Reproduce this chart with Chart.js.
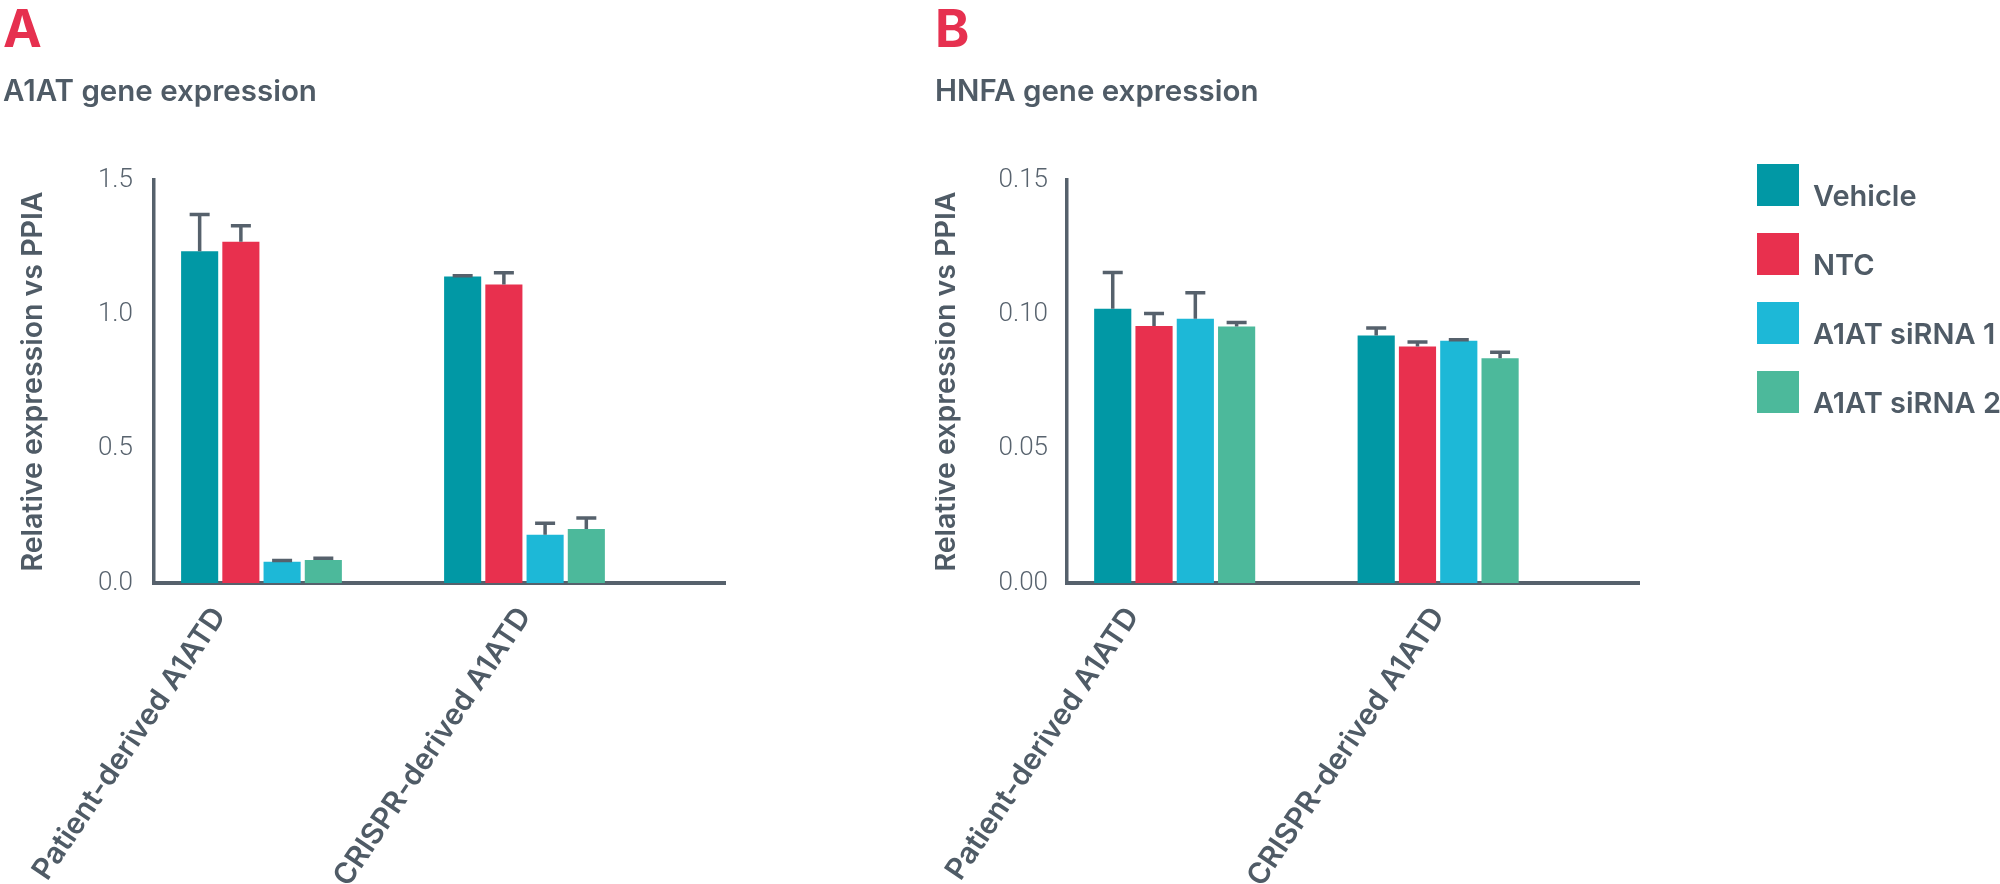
<!DOCTYPE html>
<html>
<head>
<meta charset="utf-8">
<script src="https://cdn.jsdelivr.net/npm/chart.js@4.4.1/dist/chart.umd.min.js"></script>
<style>
  html, body { margin: 0; padding: 0; background: #fff; overflow: hidden; width: 2000px; height: 884px; }
  canvas { position: absolute; top: 0; }
  #chart-a { left: 0; }
  #chart-b { left: 935px; }
  #legend-b { position: absolute; left: 1757px; top: 164px; font: 600 29px Inter, "Noto Sans", sans-serif; color: #4f5b66; line-height: 1; }
  #legend-b .item { height: 69px; white-space: nowrap; }
  #legend-b .swatch { display: inline-block; width: 42px; height: 42px; margin-right: 14px; vertical-align: baseline; }
</style>
</head>
<body>
<canvas id="chart-a" width="930" height="884"></canvas>
<canvas id="chart-b" width="1065" height="884"></canvas>
<div id="legend-b"></div>
<script>
// categories and series
const groups = ['Patient-derived A1ATD', 'CRISPR-derived A1ATD'];
const series = ['Vehicle', 'NTC', 'A1AT siRNA 1', 'A1AT siRNA 2'];

// A: A1AT gene expression (mean, error)
const vehicleA = [1.235, 1.141];
const vehicleAErr = [0.137, 0.003];
const ntcA = [1.270, 1.111];
const ntcAErr = [0.060, 0.044];
const sirna1A = [0.079, 0.180];
const sirna1AErr = [0.005, 0.042];
const sirna2A = [0.086, 0.201];
const sirna2AErr = [0.006, 0.041];
const ticksA = [0, 0.5, 1.0, 1.5];

// B: HNFA gene expression (mean, error)
const vehicleB = [0.1021, 0.0921];
const vehicleBErr = [0.0135, 0.0028];
const ntcB = [0.0957, 0.0880];
const ntcBErr = [0.0046, 0.0017];
const sirna1B = [0.0984, 0.0902];
const sirna1BErr = [0.0096, 0.0003];
const sirna2B = [0.0955, 0.0837];
const sirna2BErr = [0.0015, 0.0022];
const ticksB = [0, 0.05, 0.10, 0.15];

const colors = ['#0198a5', '#e8304e', '#1db8d7', '#4cb99b'];
const ink = '#4f5b66';
const axisInk = '#56616c';
const red = '#e6304f';

Chart.defaults.font.family = 'Inter, "Noto Sans", sans-serif';
Chart.defaults.color = ink;

// error bars (upper whisker only)
const errorBars = {
  id: 'errorBars',
  afterDatasetsDraw(chart) {
    const { ctx } = chart;
    const y = chart.scales.y;
    ctx.save();
    ctx.strokeStyle = axisInk;
    ctx.lineWidth = 3.5;
    chart.data.datasets.forEach((ds, i) => {
      chart.getDatasetMeta(i).data.forEach((bar, j) => {
        const top = y.getPixelForValue(ds.data[j].y + ds.errors[j]);
        ctx.beginPath();
        ctx.moveTo(bar.x, bar.y);
        ctx.lineTo(bar.x, top);
        ctx.moveTo(bar.x - 10, top);
        ctx.lineTo(bar.x + 10, top);
        ctx.stroke();
      });
    });
    ctx.restore();
  }
};

// legend as html, built from the chart's own legend items
const htmlLegend = {
  id: 'htmlLegend',
  afterUpdate(chart, args, opts) {
    const box = document.getElementById(opts.containerID);
    if (!box) return;
    box.innerHTML = '';
    chart.options.plugins.legend.labels.generateLabels(chart).forEach(item => {
      const row = document.createElement('div');
      row.className = 'item';
      const sw = document.createElement('span');
      sw.className = 'swatch';
      sw.style.background = item.fillStyle;
      const txt = document.createElement('span');
      txt.textContent = item.text;
      row.append(sw, txt);
      box.appendChild(row);
    });
  }
};

function buildDatasets(values, errors) {
  return series.map((name, i) => ({
    label: name,
    data: values[i].map((v, k) => ({ x: k, y: v })),
    errors: errors[i],
    backgroundColor: colors[i],
    borderWidth: 0,
    categoryPercentage: 0.627,
    barPercentage: 0.9
  }));
}

function buildOptions(o) {
  return {
    responsive: false,
    animation: false,
    layout: { padding: { left: o.padLeft, top: 0, right: o.padRight, bottom: 0 } },
    plugins: {
      legend: { display: false },
      htmlLegend: { containerID: o.legendID },
      tooltip: { enabled: false },
      title: {
        display: true, text: o.letter, align: 'start', color: red,
        font: { size: 52, weight: '700', lineHeight: 1 },
        padding: { top: 5, bottom: 10 }
      },
      subtitle: {
        display: true, text: o.title, align: 'start', color: ink,
        font: { size: 29.5, weight: '600', lineHeight: 1 },
        padding: { top: 10, bottom: 73.5 }
      }
    },
    scales: {
      x: {
        type: 'linear',
        offset: false,
        min: -0.4087,
        max: 1.7624,
        grid: { display: false, drawTicks: false },
        border: { color: axisInk, width: 4 },
        afterBuildTicks: s => { s.ticks = [{ value: -0.16 }, { value: 1.0 }]; },
        afterFit: s => { s.height = 301; s.paddingLeft = 0; s.paddingRight = 0; },
        ticks: {
          autoSkip: false,
          minRotation: 56,
          maxRotation: 56,
          padding: 18,
          color: ink,
          font: { size: 29.5, weight: '600' },
          callback: (v, i) => groups[i]
        }
      },
      y: {
        min: 0,
        max: o.ticks[o.ticks.length - 1],
        grid: { display: false, drawTicks: false },
        border: { color: axisInk, width: 3.5 },
        afterBuildTicks: s => { s.ticks = o.ticks.map(v => ({ value: v })); },
        afterFit: s => { s.width = o.yWidth; },
        ticks: {
          padding: o.tickPad,
          color: '#58636e',
          font: { family: 'Roboto', size: 26, weight: '300' },
          callback: v => v.toFixed(o.digits)
        },
        title: {
          display: true,
          text: 'Relative expression vs PPIA',
          color: ink,
          font: { size: 28.5, weight: '600' },
          padding: { top: o.titlePad, bottom: 0 }
        }
      }
    }
  };
}

new Chart(document.getElementById('chart-a'), {
  type: 'bar',
  data: {
    datasets: buildDatasets(
      [vehicleA, ntcA, sirna1A, sirna2A],
      [vehicleAErr, ntcAErr, sirna1AErr, sirna2AErr]
    )
  },
  options: buildOptions({
    letter: 'A', title: 'A1AT gene expression',
    ticks: ticksA, digits: 1, yWidth: 151, tickPad: 21, titlePad: 13, padLeft: 3, padRight: 205
  }),
  plugins: [errorBars]
});

new Chart(document.getElementById('chart-b'), {
  type: 'bar',
  data: {
    datasets: buildDatasets(
      [vehicleB, ntcB, sirna1B, sirna2B],
      [vehicleBErr, ntcBErr, sirna1BErr, sirna2BErr]
    )
  },
  options: buildOptions({
    letter: 'B', title: 'HNFA gene expression',
    ticks: ticksB, digits: 2, yWidth: 132, tickPad: 19, titlePad: -6, padLeft: 0, padRight: 361,
    legendID: 'legend-b'
  }),
  plugins: [errorBars, htmlLegend]
});
</script>
</body>
</html>
